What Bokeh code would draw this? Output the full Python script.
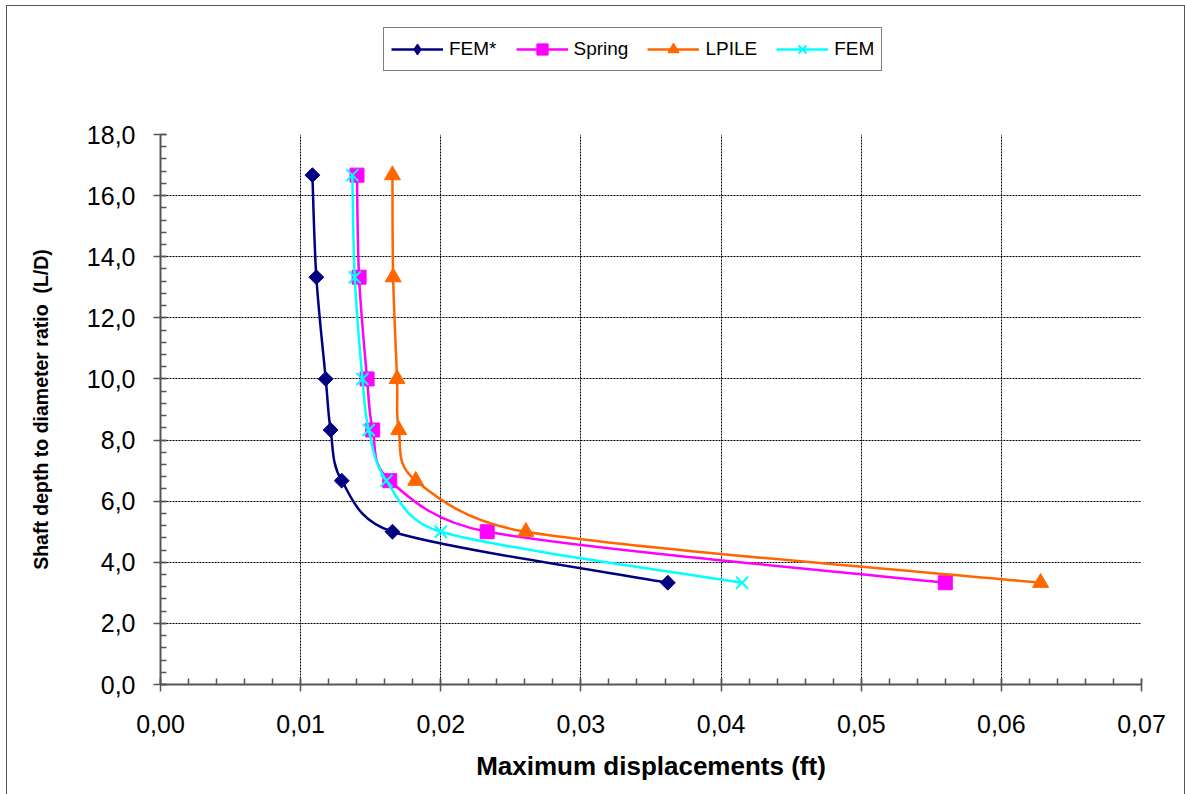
import numpy as np
from bokeh.plotting import figure
from bokeh.layouts import column
from bokeh.models import FixedTicker, Legend, LegendItem, ColumnDataSource
from bokeh.embed import file_html
from bokeh.resources import INLINE

# ---- data ----
ld_ratio = [3.33, 5.0, 6.67, 8.33, 10.0, 13.33, 16.67]
fem_star = [0.0362, 0.01655, 0.01293, 0.01214, 0.01179, 0.01112, 0.01084]
spring = [0.0560, 0.02331, 0.01636, 0.01514, 0.01474, 0.01417, 0.01402]
lpile = [0.0628, 0.02607, 0.01821, 0.01700, 0.01688, 0.01660, 0.01655]
fem = [0.0415, 0.0200, 0.01612, 0.01486, 0.01441, 0.01386, 0.01369]

x_ticks = [0.0, 0.01, 0.02, 0.03, 0.04, 0.05, 0.06, 0.07]
x_tick_labels = ["0,00", "0,01", "0,02", "0,03", "0,04", "0,05", "0,06", "0,07"]
y_ticks = [0, 2, 4, 6, 8, 10, 12, 14, 16, 18]
y_tick_labels = ["0,0", "2,0", "4,0", "6,0", "8,0", "10,0", "12,0", "14,0", "16,0", "18,0"]

series_names = ["FEM*", "Spring", "LPILE", "FEM"]
series_values = [fem_star, spring, lpile, fem]
colors = ["#000080", "#FF00FF", "#FF6600", "#00FFFF"]

W = 1177
LEG_H = 116
H = 672
BL, BR, BT, BB = 153, 43, 12, 110
X0, X1 = 0.0, 0.07
Y0, Y1 = 0.0, 18.0

# ---- legend strip (top) ----
pl = figure(width=W, height=LEG_H, output_backend="svg", toolbar_location=None,
            x_range=(0, 1), y_range=(0, 1), min_border=0)
pl.axis.visible = False
pl.grid.visible = False
pl.outline_line_color = None
pl.border_fill_color = "white"
pl.background_fill_color = "white"

# ---- main chart ----
p = figure(width=W, height=H, output_backend="svg", toolbar_location=None,
           x_range=(X0, X1), y_range=(Y0, Y1),
           min_border_left=BL, min_border_right=BR, min_border_top=BT, min_border_bottom=BB)
p.outline_line_color = None
p.background_fill_color = "white"
p.border_fill_color = "white"

p.xaxis.ticker = FixedTicker(ticks=x_ticks, minor_ticks=list(np.round(np.arange(0, 0.0701, 0.002), 4)))
p.yaxis.ticker = FixedTicker(ticks=y_ticks, minor_ticks=list(np.round(np.arange(0, 18.01, 0.4), 2)))
p.xaxis.major_label_overrides = dict(zip(x_ticks, x_tick_labels))
p.yaxis.major_label_overrides = dict(zip(y_ticks, y_tick_labels))

for ax in (p.xaxis[0], p.yaxis[0]):
    ax.axis_line_color = "#555555"
    ax.axis_line_width = 2
    ax.major_tick_line_color = "#555555"
    ax.minor_tick_line_color = "#555555"
    ax.major_tick_line_width = 1.5
    ax.minor_tick_line_width = 1.5
    ax.major_tick_in = 6
    ax.major_tick_out = 7
    ax.minor_tick_in = 6
    ax.minor_tick_out = 0
    ax.major_label_text_font = "Liberation Sans"
    ax.major_label_text_font_size = "25px"
    ax.major_label_text_color = "black"
    ax.axis_label_text_font = "Liberation Sans"
    ax.axis_label_text_font_style = "bold"
    ax.axis_label_text_color = "black"

p.xaxis.axis_label = "Maximum displacements (ft)"
p.xaxis.axis_label_text_font_size = "26px"
p.xaxis.major_label_standoff = 23
p.xaxis.axis_label_standoff = 15
p.yaxis.axis_label = "Shaft depth to diameter ratio \u00a0(L/D)"
p.yaxis.axis_label_text_font_size = "19.5px"
p.yaxis.major_label_standoff = 18
p.yaxis.axis_label_standoff = 32

for g in (p.xgrid[0], p.ygrid[0]):
    g.grid_line_color = "black"
    g.grid_line_dash = "2 1"
    g.grid_line_width = 1

# smoothing (Excel-like bezier), computed in screen proportions
sx = (W - BL - BR) / (X1 - X0)
sy = (H - BT - BB) / (Y1 - Y0)


def bezier_segments(xs, ys):
    P = np.column_stack([np.array(xs) * sx, np.array(ys) * sy])
    n = len(P)
    out = {"x0": [], "y0": [], "x1": [], "y1": [], "cx0": [], "cy0": [], "cx1": [], "cy1": []}
    for i in range(n - 1):
        p0 = P[i - 1] if i > 0 else P[i]
        p1 = P[i]
        p2 = P[i + 1]
        p3 = P[i + 2] if i + 2 < n else P[i + 1]
        d12 = np.linalg.norm(p2 - p1)
        t1 = (p2 - p0) / 6.0
        t2 = (p3 - p1) / 6.0
        l1 = np.linalg.norm(t1)
        l2 = np.linalg.norm(t2)
        if l1 > d12 / 2 and l1 > 0:
            t1 = t1 * (d12 / 2) / l1
        if l2 > d12 / 2 and l2 > 0:
            t2 = t2 * (d12 / 2) / l2
        c1 = p1 + t1
        c2 = p2 - t2
        out["x0"].append(p1[0] / sx); out["y0"].append(p1[1] / sy)
        out["x1"].append(p2[0] / sx); out["y1"].append(p2[1] / sy)
        out["cx0"].append(c1[0] / sx); out["cy0"].append(c1[1] / sy)
        out["cx1"].append(c2[0] / sx); out["cy1"].append(c2[1] / sy)
    return out


markers = [dict(marker="square", angle=np.pi / 4, size=10.5, line_width=1),
           dict(marker="square", size=14, line_width=1),
           dict(marker="triangle", size=16, line_width=1),
           dict(marker="x", size=17, line_width=2)]
legend_markers = [dict(marker="diamond", line_width=1),
                  dict(marker="square", line_width=1),
                  dict(marker="triangle", line_width=1),
                  dict(marker="x", line_width=2)]

items = []
for name, vals, col, mk, lmk in zip(series_names, series_values, colors, markers, legend_markers):
    seg = ColumnDataSource(bezier_segments(vals, ld_ratio))
    p.bezier(x0="x0", y0="y0", x1="x1", y1="y1", cx0="cx0", cy0="cy0", cx1="cx1", cy1="cy1",
             source=seg, line_color=col, line_width=2.5)
    p.scatter(x=vals, y=ld_ratio, fill_color=col, line_color=col, **mk)
    proxy_line = pl.line(x=[np.nan], y=[np.nan], line_color=col, line_width=2.5)
    proxy_mark = pl.scatter(x=[np.nan], y=[np.nan], fill_color=col, line_color=col, **lmk)
    items.append(LegendItem(label=name, renderers=[proxy_line, proxy_mark]))

legend = Legend(items=items, orientation="horizontal", location=(223, 51))
legend.label_text_font = "Liberation Sans"
legend.label_text_font_size = "19px"
legend.label_text_color = "black"
legend.glyph_width = 52
legend.glyph_height = 28
legend.label_standoff = 6
legend.spacing = 19
legend.padding = 7
legend.margin = 0
legend.border_line_color = "black"
legend.border_line_width = 1.5
legend.background_fill_color = "white"
pl.add_layout(legend, "center")

layout = column(pl, p, spacing=0)
layout.styles = {"outline": "1px solid #555", "margin-left": "7px", "margin-top": "6px"}

open("out.html", "w").write(file_html(layout, INLINE))
